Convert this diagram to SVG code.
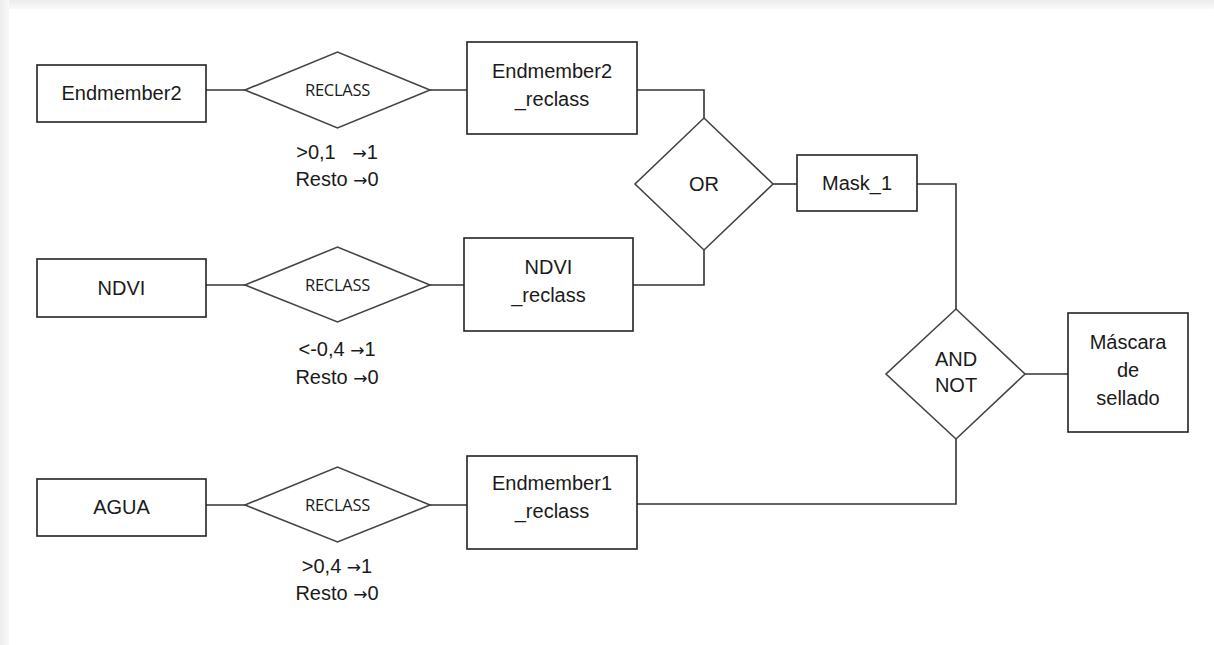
<svg xmlns="http://www.w3.org/2000/svg" width="1214" height="645" viewBox="0 0 1214 645">
<defs>
<linearGradient id="gt" x1="0" y1="0" x2="0" y2="1"><stop offset="0" stop-color="#ececec"/><stop offset="1" stop-color="#f9f9f9"/></linearGradient>
<linearGradient id="gl" x1="0" y1="0" x2="1" y2="0"><stop offset="0" stop-color="#ececec"/><stop offset="1" stop-color="#f9f9f9"/></linearGradient>
</defs>
<style>
.box{fill:#fff;stroke:#222;stroke-width:1.6}
.dia{fill:#fff;stroke:#444;stroke-width:1.6}
.con{fill:none;stroke:#333;stroke-width:1.6}
.t{font-family:"Liberation Sans",Arial,sans-serif;font-size:20px;fill:#1a1a1a;text-anchor:middle}
.r{font-family:"Open Sans","Noto Sans",sans-serif;font-size:16.5px;fill:#1a1a1a;text-anchor:middle;letter-spacing:-0.3px}
.l{font-family:"Liberation Sans",Arial,sans-serif;font-size:20px;fill:#1a1a1a;text-anchor:middle}
.a{font-family:"DejaVu Sans",sans-serif;font-size:17px}
</style>
<rect width="1214" height="645" fill="#fff"/>
<rect x="0" y="0" width="1214" height="9" fill="url(#gt)"/>
<rect x="0" y="0" width="9" height="645" fill="url(#gl)"/>
<g id="connectors">
<line class="con" x1="206" y1="90" x2="245" y2="90"/>
<line class="con" x1="430" y1="90" x2="467" y2="90"/>
<line class="con" x1="206" y1="285" x2="245" y2="285"/>
<line class="con" x1="430" y1="285" x2="464" y2="285"/>
<line class="con" x1="206" y1="505" x2="245" y2="505"/>
<line class="con" x1="430" y1="505" x2="467" y2="505"/>
<polyline class="con" points="637,90 704,90 704,118"/>
<polyline class="con" points="633,285 704,285 704,250"/>
<line class="con" x1="773" y1="184" x2="797" y2="184"/>
<polyline class="con" points="917,184 956,184 956,309"/>
<line class="con" x1="1025" y1="374" x2="1068" y2="374"/>
<polyline class="con" points="637,504 956,504 956,439"/>
</g>
<g id="endmember2"><rect class="box" x="37" y="65" width="169" height="57"/><text class="t" x="121.5" y="100">Endmember2</text></g>
<g id="reclass1"><polygon class="dia" points="245,90 337.5,52 430,90 337.5,128"/><text class="r" x="337.5" y="96">RECLASS</text></g>
<g id="label1"><text class="l" x="337" y="159" xml:space="preserve">&gt;0,1   <tspan class="a">→</tspan>1</text><text class="l" x="337" y="186">Resto <tspan class="a">→</tspan>0</text></g>
<g id="endmember2_reclass"><rect class="box" x="467" y="42" width="170" height="92"/><text class="t" x="552" y="78">Endmember2</text><text class="t" x="552" y="106">_reclass</text></g>
<g id="ndvi"><rect class="box" x="37" y="259" width="169" height="58"/><text class="t" x="121.5" y="295">NDVI</text></g>
<g id="reclass2"><polygon class="dia" points="245,285 337.5,247 430,285 337.5,322"/><text class="r" x="337.5" y="291">RECLASS</text></g>
<g id="label2"><text class="l" x="337" y="356">&lt;-0,4 <tspan class="a">→</tspan>1</text><text class="l" x="337" y="384">Resto <tspan class="a">→</tspan>0</text></g>
<g id="ndvi_reclass"><rect class="box" x="464" y="238" width="169" height="93"/><text class="t" x="548.5" y="274">NDVI</text><text class="t" x="548.5" y="302">_reclass</text></g>
<g id="or"><polygon class="dia" points="704,118 773,184 704,250 635,184"/><text class="t" x="704" y="191">OR</text></g>
<g id="mask1"><rect class="box" x="797" y="155" width="120" height="56"/><text class="t" x="857" y="190">Mask_1</text></g>
<g id="andnot"><polygon class="dia" points="956,309 1025,374 956,439 886,374"/><text class="t" x="956" y="366">AND</text><text class="t" x="956" y="392">NOT</text></g>
<g id="mascara"><rect class="box" x="1068" y="313" width="120" height="119"/><text class="t" x="1128" y="349">Máscara</text><text class="t" x="1128" y="377">de</text><text class="t" x="1128" y="405">sellado</text></g>
<g id="agua"><rect class="box" x="37" y="479" width="169" height="57"/><text class="t" x="121.5" y="514">AGUA</text></g>
<g id="reclass3"><polygon class="dia" points="245,505 337.5,467 430,505 337.5,542"/><text class="r" x="337.5" y="511">RECLASS</text></g>
<g id="label3"><text class="l" x="337" y="573">&gt;0,4 <tspan class="a">→</tspan>1</text><text class="l" x="337" y="600">Resto <tspan class="a">→</tspan>0</text></g>
<g id="endmember1_reclass"><rect class="box" x="467" y="456" width="170" height="93"/><text class="t" x="552" y="490">Endmember1</text><text class="t" x="552" y="518">_reclass</text></g>
</svg>
